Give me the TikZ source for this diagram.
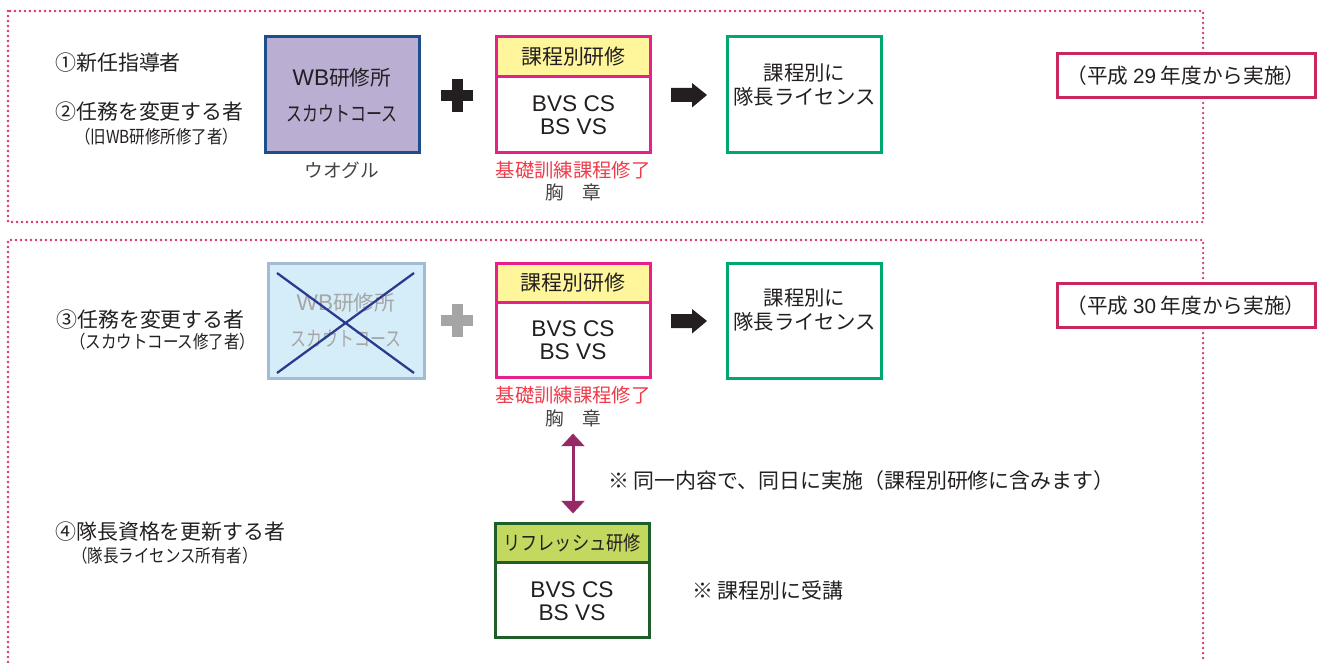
\documentclass[tikz,border=0pt]{standalone}
\usepackage{fontspec}
\setmainfont{Noto Sans CJK JP}
\newfontfamily\condA[FakeStretch=0.86]{Noto Sans CJK JP}
\newfontfamily\condB[FakeStretch=0.77]{Noto Sans CJK JP}
\newfontfamily\condC[FakeStretch=0.86]{Noto Sans CJK JP}
\newfontfamily\latf{Liberation Sans}
\usetikzlibrary{arrows.meta}
\definecolor{txtc}{RGB}{35,31,32}
\definecolor{framec}{RGB}{214,46,106}
\definecolor{labelc}{RGB}{200,40,95}
\definecolor{magc}{RGB}{233,32,138}
\definecolor{yelc}{RGB}{255,245,154}
\definecolor{grnc}{RGB}{0,168,107}
\definecolor{wbfill}{RGB}{187,174,211}
\definecolor{wbline}{RGB}{31,78,140}
\definecolor{xfill}{RGB}{213,236,249}
\definecolor{xline}{RGB}{163,188,212}
\definecolor{xtext}{RGB}{166,166,166}
\definecolor{xcross}{RGB}{43,58,143}
\definecolor{refline}{RGB}{30,94,40}
\definecolor{reffill}{RGB}{195,216,94}
\definecolor{purc}{RGB}{150,42,102}
\definecolor{redc}{RGB}{238,60,75}
\definecolor{grayt}{RGB}{68,68,68}
\definecolor{plusgray}{RGB}{165,165,165}
\definecolor{symblack}{RGB}{35,31,32}
\begin{document}
\begin{tikzpicture}[x=0.75pt,y=-0.75pt,
  frame/.style={draw=framec, line width=1.9pt, line cap=round, dash pattern=on 0pt off 3.75pt},
  lbl/.style={inner sep=0pt, anchor=west, text=txtc, font=\fontsize{15.7}{18}\selectfont},
  sublbl/.style={inner sep=0pt, anchor=west, text=txtc, font=\condA\fontsize{13.5}{16}\selectfont},
  bigbox/.style={draw, line width=2.25pt, minimum width=115.5pt, minimum height=87pt, inner sep=0pt},
  hdr/.style={draw, line width=2.25pt, minimum width=115.5pt, minimum height=29.5pt, inner sep=0pt, anchor=north, text=txtc, font=\fontsize{15.7}{18}\selectfont},
  bodytxt/.style={inner sep=0pt, text=txtc, align=center, font=\latf\fontsize{17}{17.5}\selectfont},
  gtxt/.style={inner sep=0pt, text=txtc, align=center, font=\fontsize{15.3}{18}\selectfont},
  redtxt/.style={inner sep=0pt, text=redc, font=\fontsize{14.5}{17}\selectfont},
  graytxt/.style={inner sep=0pt, text=grayt, font=\fontsize{14}{17}\selectfont},
  yearbox/.style={draw=labelc, fill=white, line width=2.25pt, minimum width=193.5pt, minimum height=33pt, inner sep=0pt, text=txtc, font=\fontsize{15.5}{18}\selectfont},
  dbl/.style={draw=purc, line width=2.25pt, {Triangle[width=17pt,length=9.5pt]}-{Triangle[width=17pt,length=9.5pt]}}
]
\useasboundingbox (0,0) rectangle (1323,663);

% frames
\draw[frame] (8,11) rectangle (1203,222);
\draw[frame] (8,662) -- (8,240) -- (1203,240) -- (1203,662);

% ---------- section 1 ----------
\node[lbl] (l1) at (55,63) {①新任指導者};
\node[lbl] (l2) at (55,112) {②任務を変更する者};
\node[sublbl] (l2s) at (75,137) {（旧WB研修所修了者）};

\node[bigbox, draw=wbline, fill=wbfill, align=center, text=txtc, font=\fontsize{15.5}{27}\selectfont] (wb) at (342,95) {{\latf\fontsize{17}{27}\selectfont WB}研修所\\{\condB スカウトコース}};
\node[graytxt] (wog) at (342,170) {ウオグル};

\fill[symblack] (441,90) rectangle (473,101);
\fill[symblack] (451.5,79) rectangle (462.5,112);

\node[bigbox, draw=magc, fill=white] (c1) at (573.5,95) {};
\node[hdr, draw=magc, fill=yelc] (c1h) at (c1.north) {課程別研修};
\node[bodytxt] (c1t) at (573.5,115.5) {BVS CS\\BS VS};
\node[redtxt] (r1) at (573,170) {基礎訓練課程修了};
\node[graytxt] (b1) at (573,192) {胸　章};

\fill[symblack] (671,88) -- (692,88) -- (692,83) -- (707,95) -- (692,107.5) -- (692,102) -- (671,102) -- cycle;

\node[bigbox, draw=grnc, fill=white] (g1) at (804.5,95) {};
\node[gtxt] (g1t) at (804.5,85) {課程別に\\隊長ライセンス};

\node[yearbox] (y1) at (1186,76) {（平成 {\latf 29} 年度から実施）};

% ---------- section 2 ----------
\node[lbl] (l3) at (56,320) {③任務を変更する者};
\node[sublbl] (l3s) at (70,342) {（スカウトコース修了者）};

\node[bigbox, draw=xline, fill=xfill, minimum width=117pt, minimum height=86.25pt] (xb) at (346,320.5) {};
\node[inner sep=0pt, text=xtext, font=\fontsize{15.5}{18}\selectfont] (xt1) at (346,303) {{\latf\fontsize{17}{18}\selectfont WB}研修所};
\node[inner sep=0pt, text=xtext, font=\condB\fontsize{15.5}{18}\selectfont] (xt2) at (346,339) {スカウトコース};
\draw[xcross, line width=1.7pt] (277,273) -- (414,373);
\draw[xcross, line width=1.7pt] (277,373) -- (414,273);

\fill[plusgray] (441,315) rectangle (473,326);
\fill[plusgray] (451.5,304) rectangle (462.5,337);

\node[bigbox, draw=magc, fill=white, minimum height=85.5pt] (c2) at (573,320) {};
\node[hdr, draw=magc, fill=yelc] (c2h) at (c2.north) {課程別研修};
\node[bodytxt] (c2t) at (573,340.5) {BVS CS\\BS VS};
\node[redtxt] (r2) at (573,395) {基礎訓練課程修了};
\node[graytxt] (b2) at (573,418) {胸　章};

\fill[symblack] (671,314) -- (692,314) -- (692,309) -- (707,321) -- (692,333.5) -- (692,328) -- (671,328) -- cycle;

\node[bigbox, draw=grnc, fill=white, minimum height=86.25pt] (g2) at (804.5,320.5) {};
\node[gtxt] (g2t) at (804.5,310) {課程別に\\隊長ライセンス};

\node[yearbox] (y2) at (1186,305.5) {（平成 {\latf 30} 年度から実施）};

% ---------- section 3 ----------
\node[lbl] (note1) at (608,481) {※ 同一内容で、同日に実施（課程別研修に含みます）};
\node[lbl] (l4) at (55,532) {④隊長資格を更新する者};
\node[sublbl] (l4s) at (72,556) {（隊長ライセンス所有者）};

\node[bigbox, draw=refline, fill=white, minimum height=85.5pt] (rb) at (572,580) {};
\node[hdr, draw=refline, fill=reffill, font=\condC\fontsize{15}{18}\selectfont] (rh) at (rb.north) {リフレッシュ研修};
\node[bodytxt] (rt) at (572,601.5) {BVS CS\\BS VS};
\node[lbl] (note2) at (692,591) {※ 課程別に受講};

\draw[dbl, shorten <=5pt, shorten >=6pt] (b2.south) -- (b2.south |- rh.north);

\end{tikzpicture}
\end{document}
